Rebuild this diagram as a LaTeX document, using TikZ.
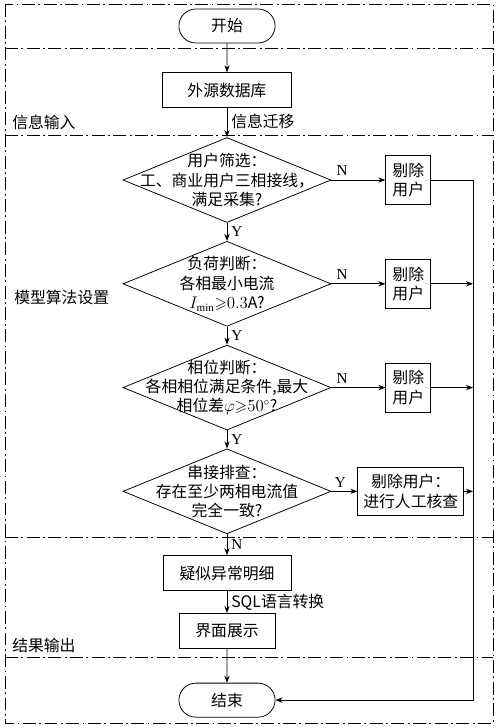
\documentclass[tikz,border=0pt]{standalone}
\usepackage{amsmath,amssymb}
\usepackage{fontspec}
\setmainfont{Liberation Serif}
\newfontfamily\cjk{Noto Sans CJK SC}
\usetikzlibrary{shapes,arrows.meta,positioning}

\begin{document}
\begin{tikzpicture}[x=0.03cm, y=-0.03cm, line width=0.65pt,
    >={Stealth[length=6pt,width=4.5pt]},
    txt/.style={font=\cjk\fontsize{13.5}{16.5}\selectfont},
    yn/.style={font=\fontsize{13}{15}\selectfont},
    zone/.style={line width=0.7pt, dash pattern=on 11pt off 3pt on 1.5pt off 3pt},
    term/.style={txt, draw, rounded rectangle, minimum width=3.12cm, minimum height=1.02cm},
    proc/.style={txt, draw, rectangle, minimum height=1.05cm},
    decision/.style={draw, diamond, inner sep=0pt, minimum width=6.24cm, minimum height=2.55cm},
    dropbox/.style={txt, draw, rectangle, align=center, minimum width=1.35cm, minimum height=1.47cm, inner sep=2pt}]
    \useasboundingbox (0,0) rectangle (500,728);

    % Zones
    \draw[zone] (5,4) rectangle (493,723);
    \draw[zone] (5,48) -- (493,48);
    \draw[zone] (5,135) -- (493,135);
    \draw[zone] (5,537) -- (493,537);
    \draw[zone] (5,657) -- (493,657);
    \node[txt, anchor=west] (zin) at (8,122) {信息输入};
    \node[txt, anchor=west] (zmodel) at (10,297) {模型算法设置};
    \node[txt, anchor=west] (zout) at (8,645) {结果输出};

    % Nodes
    \node[term] (start) at (227,26) {开始};
    \node[proc, minimum width=3.87cm, below=0.87cm of start] (src) {外源数据库};
    \node[decision, below=0.87cm of src] (d1) {};
    \node[txt, align=center] (d1t) at (d1) {用户筛选：\\工、商业用户三相接线，\\满足采集?};
    \node[decision, below=0.54cm of d1] (d2) {};
    \node[txt, align=center] (d2t) at (d2) {负荷判断：\\各相最小电流\\$I_{\min}{\geqslant}0.3$A?};
    \node[decision, below=0.54cm of d2] (d3) {};
    \node[txt, align=center] (d3t) at (d3) {相位判断：\\各相相位满足条件,最大\\相位差$\varphi{\geqslant}50^\circ$?};
    \node[decision, below=0.54cm of d3] (d4) {};
    \node[txt, align=center] (d4t) at (d4) {串接排查：\\存在至少两相电流值\\完全一致?};
    \node[proc, minimum width=3.84cm, below=0.63cm of d4] (abn) {疑似异常明细};
    \node[proc, minimum width=2.88cm, below=0.66cm of abn] (show) {界面展示};
    \node[term, below=1.02cm of show] (end) {结束};

    \node[dropbox, right=1.62cm of d1] (r1) {剔除\\用户};
    \node[dropbox, right=1.62cm of d2] (r2) {剔除\\用户};
    \node[dropbox, right=1.62cm of d3] (r3) {剔除\\用户};
    \node[dropbox, minimum width=3.18cm, minimum height=1.44cm, right=0.78cm of d4] (r4) {剔除用户：\\进行人工核查};
    \coordinate (rail) at (473,0);

    % Arrows
    \draw[->] (start) -- (src);
    \draw[->] (src) -- node[txt, right, pos=0.45] {信息迁移} (d1);
    \draw[->] (d1) -- node[yn, right] {Y} (d2);
    \draw[->] (d2) -- node[yn, right] {Y} (d3);
    \draw[->] (d3) -- node[yn, right] {Y} (d4);
    \draw[->] (d4) -- node[yn, right] {N} (abn);
    \draw[->] (abn) -- node[txt, right] {SQL语言转换} (show);
    \draw[->] (show) -- (end);

    \draw[->] (d1) -- node[yn, above, pos=0.2] {N} (r1);
    \draw[->] (d2) -- node[yn, above, pos=0.2] {N} (r2);
    \draw[->] (d3) -- node[yn, above, pos=0.2] {N} (r3);
    \draw[->] (d4) -- node[yn, above, pos=0.35] {Y} (r4);

    \draw[->] (r1.east) -- (r1.east -| rail) |- (end.east);
    \draw[->] (r2.east) -- (r2.east -| rail);
    \draw[->] (r3.east) -- (r3.east -| rail);
    \draw[->] (r4.east) -- (r4.east -| rail);
\end{tikzpicture}
\end{document}
